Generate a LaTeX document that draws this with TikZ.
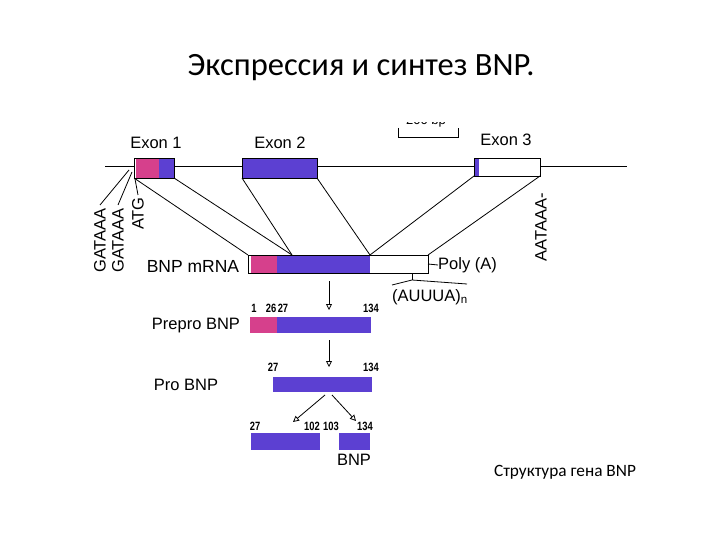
\documentclass[tikz,border=0pt]{standalone}
\usepackage{fontspec}
\setmainfont{Liberation Sans}
\newfontfamily\calib{Carlito}
\usetikzlibrary{arrows.meta}
\definecolor{mag}{RGB}{214,64,140}
\definecolor{vio}{RGB}{92,64,210}
\newcommand{\nm}[1]{\scalebox{0.78}[1]{\bfseries #1}}
\begin{document}
\begin{tikzpicture}[x=1pt,y=-1pt,
  box/.style={draw=black, line width=0.8pt, minimum height=20pt, inner sep=0pt, outer sep=0pt, anchor=north west},
  pbox/.style={fill=vio, minimum height=16pt, inner sep=0pt, outer sep=0pt, anchor=north west},
  lbl/.style={font=\fontsize{16.5}{18}\selectfont, inner sep=0pt},
  num/.style={font=\fontsize{12}{13}\selectfont, inner sep=0pt},
  ln/.style={line width=0.8pt},
  arr/.style={line width=0.8pt, -{Triangle[open, length=6pt, width=6pt]}}]
\useasboundingbox (0,0) rectangle (720,540);
\fill[white] (0,0) rectangle (720,540);

% title and caption
\node[font=\calib\fontsize{32.5}{36}\selectfont, inner sep=0pt] (title) at (361,68) {Экспрессия и синтез BNP.};
\node[font=\calib\fontsize{17.3}{19}\selectfont, inner sep=0pt] (caption) at (565,472) {Структура гена BNP};

% scale bar
\begin{scope}
  \clip (380,123) rectangle (470,142);
  \node[font=\fontsize{13}{14}\selectfont, inner sep=0pt] (scaletxt) at (426,121) {200 bp};
\end{scope}
\draw[ln] (398,128) -- (398,137) -- (458,137) -- (458,128);

% genomic line
\coordinate (gl) at (105,166);
\coordinate (gr) at (627,166);
\draw[ln] (gl) -- (gr);

% exons
\node[box, fill=white, minimum width=40pt] (ex1) at (134,158) {};
\fill[mag] (136,158.4) rectangle (159,177.6);
\fill[vio] (159,158.4) rectangle (174,177.6);
\draw[ln] (ex1.north west) rectangle (ex1.south east);
\node[box, fill=vio, minimum width=75pt] (ex2) at (242,158) {};
\node[box, fill=white, minimum width=66pt, minimum height=18pt] (ex3) at (474,158) {};
\fill[vio] (474.4,158.4) rectangle (479,175.6);
\draw[ln] (ex3.north west) rectangle (ex3.south east);

\node[lbl] (lex1) at (156,143) {Exon 1};
\node[lbl] (lex2) at (280,143) {Exon 2};
\node[lbl] (lex3) at (506,140) {Exon 3};

% mRNA
\node[box, fill=white, minimum width=180pt, minimum height=18pt] (mrna) at (248,255) {};
\fill[mag] (251,255.4) rectangle (277,272.6);
\fill[vio] (277,255.4) rectangle (370,272.6);
\draw[ln] (mrna.north west) rectangle (mrna.south east);
\node[lbl, font=\fontsize{17.5}{19}\selectfont] (lmrna) at (193,266) {BNP mRNA};
\coordinate (m2) at (292,255);
\coordinate (m3) at (370,255);
\draw[ln] (ex1.south west) -- (mrna.north west);
\draw[ln] (ex1.south east) -- (m2);
\draw[ln] (ex2.south west) -- (m2);
\draw[ln] (ex2.south east) -- (m3);
\draw[ln] (ex3.south west) -- (m3);
\draw[ln] (ex3.south east) -- (mrna.north east);

% poly A
\node[lbl, anchor=west] (polya) at (438,265) {Poly (A)};
\draw[ln] (mrna.east) -- (polya.west);
\coordinate (st1) at (412,273);
\coordinate (st2) at (412,280);
\coordinate (brl) at (392,285);
\coordinate (brr) at (467,284);
\draw[ln] (st1) -- (st2);
\draw[ln] (brl) -- (st2) -- (brr);
\node[lbl] (auuua) at (430,297) {(AUUUA)\textsubscript{n}};

% promoter labels
\node[lbl, rotate=90, anchor=east] (g1) at (100,208) {GATAAA};
\node[lbl, rotate=90, anchor=east] (g2) at (118,208) {GATAAA};
\node[lbl, rotate=90, anchor=east] (atg) at (138,197) {ATG};
\coordinate (p1) at (129,170);
\coordinate (p2) at (132,172);
\coordinate (p3) at (135,179);
\draw[ln] ([yshift=3pt]g1.east) -- (p1);
\draw[ln] ([yshift=3pt]g2.east) -- (p2);
\draw[ln] ([yshift=2pt]atg.east) -- (p3);
\node[lbl, rotate=90, anchor=east] (aat) at (541,193) {AATAAA-};

% processing arrows
\coordinate (a1s) at (329,281);
\coordinate (a1e) at (329,310);
\draw[arr] (a1s) -- (a1e);

% prepro
\node[pbox, minimum width=121pt] (prepro) at (250,317) {};
\fill[mag] (250,317) rectangle (277,333);
\node[lbl] (lprepro) at (196,326) {Prepro BNP};
\node[num] (n1) at (254,308) {\nm{1}};
\node[num] (n2627) at (277,308) {\nm{26\,27}};
\node[num] (n134a) at (371,308) {\nm{134}};

\coordinate (a2s) at (329,340);
\coordinate (a2e) at (329,367);
\draw[arr] (a2s) -- (a2e);

% pro
\node[pbox, minimum width=99pt, minimum height=15pt] (pro) at (273,377) {};
\node[lbl] (lpro) at (186,385) {Pro BNP};
\node[num] (n27a) at (273,367) {\nm{27}};
\node[num] (n134b) at (371,367) {\nm{134}};

\coordinate (spls) at (325,395);
\coordinate (spl) at (293,422);
\coordinate (sprs) at (332,395);
\coordinate (spr) at (356,421);
\draw[arr] (spls) -- (spl);
\draw[arr] (sprs) -- (spr);

% fragments
\node[pbox, minimum width=69pt, minimum height=17pt] (fragl) at (251,433) {};
\node[pbox, minimum width=31pt, minimum height=17pt] (fragr) at (339,433) {};
\node[num] (n27b) at (255,426) {\nm{27}};
\node[num] (n102) at (312,426) {\nm{102}};
\node[num] (n103) at (331,426) {\nm{103}};
\node[num] (n134c) at (365,426) {\nm{134}};
\node[lbl] (lbnp) at (354,460) {BNP};
\end{tikzpicture}
\end{document}
